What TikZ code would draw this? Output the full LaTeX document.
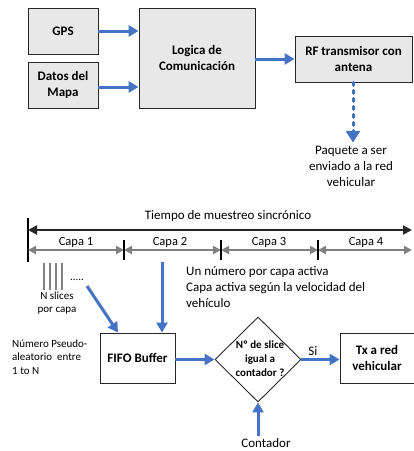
\documentclass[tikz,border=0pt]{standalone}
\usepackage{fontspec}
\setmainfont{Carlito}
\usetikzlibrary{arrows.meta,shapes.geometric}
\definecolor{bl}{RGB}{68,114,196}
\definecolor{boxgray}{RGB}{232,232,232}
\definecolor{arrgray}{RGB}{128,128,128}
\definecolor{dk}{RGB}{38,38,38}
\tikzset{
  box/.style={draw=dk,line width=0.9pt,fill=boxgray,inner sep=0pt,align=center,font=\fontsize{13}{15.5}\selectfont\bfseries},
  wbox/.style={box,fill=white},
  barr/.style={draw=bl,line width=3pt,-{Triangle[length=10pt,width=11pt]}},
  garr/.style={draw=arrgray,line width=2pt,{Triangle[length=8pt,width=8pt]}-{Triangle[length=8pt,width=8pt]}},
  karr/.style={draw=dk,line width=2.3pt,{Triangle[length=9pt,width=9pt]}-{Triangle[length=9pt,width=9pt]}},
  tick/.style={draw=black,line width=1.3pt},
  txt/.style={inner sep=0pt,font=\fontsize{13}{16}\selectfont},
  ctxt/.style={inner sep=0pt,font=\fontsize{12.5}{14}\selectfont},
  stxt/.style={inner sep=0pt,font=\fontsize{11}{13.5}\selectfont},
}
\begin{document}
\begin{tikzpicture}[x=1pt,y=-1pt]
\useasboundingbox (0,0) rectangle (414,451);
% top
\node[box,minimum width=70pt,minimum height=46pt] (gps) at (63,31) {GPS};
\node[box,minimum width=70pt,minimum height=46pt] (map) at (63,85) {Datos del\\Mapa};
\node[box,minimum width=116pt,minimum height=100pt] (log) at (197,58) {Logica de\\Comunicación};
\node[box,minimum width=117pt,minimum height=46pt] (rf) at (353.5,59) {RF transmisor con\\antena};
\node[txt,align=center] (paq) at (351,166) {Paquete a ser\\enviado a la red\\vehicular};
\draw[barr] (gps.east) -- (gps.east -| log.west);
\draw[barr] (map.east |- 0,87) -- (log.west |- 0,87);
\draw[barr] (log.east |- 0,59) -- (rf.west |- 0,59);
\coordinate (pq) at (353,141);
\draw[draw=bl,line width=3pt,dash pattern=on 3pt off 5pt,line cap=round] (rf.south -| pq) -- (353,132);
\draw[draw=bl,fill=bl] (346,131) -- (360,131) -- (353,142) -- cycle;
% timeline
\node[txt] (tiempo) at (228,216) {Tiempo de muestreo sincrónico};
\coordinate (t0) at (28,230);
\coordinate (t1) at (412,230);
\draw[karr] (t0) -- (t1);
\coordinate (l0a) at (28,218);
\coordinate (l0b) at (28,262);
\draw[tick] (l0a) -- (l0b);
\coordinate (g0) at (28,250);
\coordinate (g1) at (124,250);
\coordinate (g2) at (221,250);
\coordinate (g3) at (318,250);
\coordinate (g4) at (412,250);
\draw[garr] (g0) -- (g1);
\draw[garr] (g1) -- (g2);
\draw[garr] (g2) -- (g3);
\draw[garr] (g3) -- (g4);
\draw[tick] (124,240) -- (124,260);
\draw[tick] (221,240) -- (221,260);
\draw[tick] (318,240) -- (318,260);
\node[ctxt] (c1) at (76,242) {Capa 1};
\node[ctxt] (c2) at (170,242) {Capa 2};
\node[ctxt] (c3) at (269,242) {Capa 3};
\node[ctxt] (c4) at (366,242) {Capa 4};
% slices
\foreach \xx in {44,50,56,62} \draw[arrgray,line width=1.5pt] (\xx,263) -- (\xx,290);
\node[stxt] (dots) at (77,280) {.....};
\node[stxt,align=center] (nsl) at (57,303) {N slices\\por capa};
\node[stxt,align=left,anchor=west] (pseudo) at (12,357) {Número Pseudo-\\aleatorio~ entre\\1 to N};
\node[txt,align=left,anchor=north west] (un) at (186,266) {Un número por capa activa\\Capa activa según la velocidad del\\vehículo};
% bottom
\node[wbox,minimum width=75pt,minimum height=50pt] (fifo) at (137.5,358) {FIFO Buffer};
\node[diamond,draw=dk,line width=0.9pt,fill=white,minimum width=86pt,minimum height=85pt,inner sep=0pt] (dia) at (258,359.5) {};
\node[inner sep=0pt,align=center,font=\fontsize{11}{14}\selectfont\bfseries] (diat) at (260,359) {Nº de slice\\igual a\\contador ?};
\node[wbox,minimum width=74pt,minimum height=50pt] (tx) at (377,358) {Tx a red\\vehicular};
\coordinate (s1) at (87,286);
\draw[barr] (s1) -- (fifo.north west -| 118,0);
\coordinate (s2) at (162,262);
\draw[barr] (s2) -- (fifo.north -| s2);
\draw[barr] (fifo.east |- dia.west) -- (dia.west);
\draw[barr] (dia.east) -- (tx.west |- dia.east) node[pos=0.3,above=2pt,txt,inner sep=0pt]{Si};
\node[txt,anchor=base] (cont) at (266,447) {Contador};
\coordinate (cc) at (258,436);
\draw[barr] (cc) -- (dia.south);
\end{tikzpicture}
\end{document}
